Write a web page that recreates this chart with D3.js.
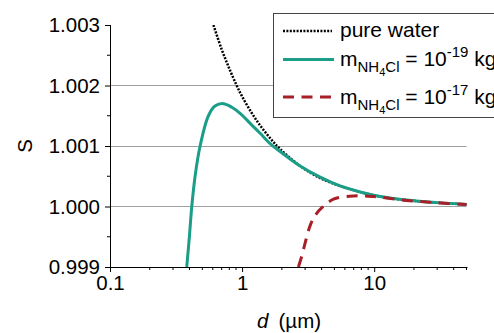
<!DOCTYPE html>
<html><head><meta charset="utf-8">
<script src="https://cdn.jsdelivr.net/npm/d3@7"></script>
<style>body{margin:0;background:#fff;} svg{display:block;font-family:"Liberation Sans",Arial,sans-serif;}</style>
</head><body>
<svg id="c" width="494" height="333"></svg>
<script>
const waterD = [0.607,0.7,0.8,0.91,1.0,1.18,1.37,1.63,1.94,2.75,3.9,5.5,7.8,11,17,30,50];
const waterS = [1.003,1.0026,1.00228,1.002,1.00182,1.00155,1.00134,1.00113,1.00095,1.00067,1.00047,1.00034,1.00024,1.000167,1.00011,1.000062,1.000036];
const lowD = [0.381,0.399,0.416,0.441,0.481,0.556,0.624,0.722,0.836,0.966,1.18,1.37,1.63,1.94,2.75,3.9,5.52,7.83,11.1,16.7,29.9,50];
const lowS = [0.999,0.9995,1.0,1.000505,1.001,1.0015,1.00166,1.0017,1.00164,1.00154,1.00135,1.00121,1.00104,1.00091,1.00067,1.000485,1.00034,1.00024,1.000165,1.00011,1.000064,1.000035];
const highD = [2.67,2.83,3.27,3.57,4.02,4.92,6.97,9.9,16.7,29.9,50];
const highS = [0.999,0.99918,0.99968,0.99985,0.99998,1.00012,1.000175,1.000165,1.000104,1.000062,1.000034];
const xTicks = [0.1,1,10];
const xTickLabels = ["0.1","1","10"];
const yTicks = [0.999,1.000,1.001,1.002,1.003];
const yTickLabels = ["0.999","1.000","1.001","1.002","1.003"];
const gridVals = [1.000,1.001,1.002];

const FS = 20.5;
const svg = d3.select("#c");
const L=110,R=466.5,T=25,B=267;
const x = d3.scaleLog().domain([0.1,50]).range([L,R]);
const y = d3.scaleLinear().domain([0.999,1.003]).range([B,T]);

svg.append("defs").append("clipPath").attr("id","clip").append("rect")
  .attr("x",L).attr("y",T).attr("width",R-L+2).attr("height",B-T);

svg.append("g").selectAll("line").data(gridVals).join("line")
  .attr("x1",L).attr("x2",R).attr("y1",d=>Math.round(y(d))+0.5).attr("y2",d=>Math.round(y(d))+0.5)
  .attr("stroke","#a0a0a0").attr("stroke-width",1);

const minorX = [];
for (let e=-1;e<=1;e++) for (let k=2;k<=9;k++){const v=k*Math.pow(10,e); if(v<=50) minorX.push(v);}
const gx = svg.append("g").attr("transform",`translate(0,${B})`);
gx.call(d3.axisBottom(x).tickValues(xTicks).tickFormat((d,i)=>xTickLabels[i]).tickSize(5).tickPadding(3));
gx.append("g").selectAll("line").data(minorX).join("line")
  .attr("x1",d=>x(d)).attr("x2",d=>x(d)).attr("y1",0).attr("y2",3).attr("stroke","#000");
gx.select(".domain").attr("d",`M${L},0.5H${R+1}`);

const minorY = [0.9995,1.0005,1.0015,1.0025];
const gy = svg.append("g").attr("transform",`translate(${L},0)`);
gy.call(d3.axisLeft(y).tickValues(yTicks).tickFormat((d,i)=>yTickLabels[i]).tickSize(5).tickPadding(5));
gy.append("g").selectAll("line").data(minorY).join("line")
  .attr("x1",0).attr("x2",-3).attr("y1",d=>y(d)).attr("y2",d=>y(d)).attr("stroke","#000");
gy.select(".domain").attr("d",`M0.5,${T}V${B}`);
svg.selectAll(".tick text").attr("font-size",FS).attr("fill","#000").attr("font-family","Liberation Sans, Arial, sans-serif");
svg.selectAll(".tick line").attr("stroke","#000");

const line = d3.line().x(d=>x(d[0])).y(d=>y(d[1])).curve(d3.curveCatmullRom.alpha(0.5));
const plot = svg.append("g").attr("clip-path","url(#clip)");
plot.append("path").datum(waterD.map((d,i)=>[d,waterS[i]])).attr("d",line)
  .attr("fill","none").attr("stroke","#000").attr("stroke-width",2.5).attr("stroke-dasharray","2,1.4");
plot.append("path").datum(lowD.map((d,i)=>[d,lowS[i]])).attr("d",line)
  .attr("fill","none").attr("stroke","#1a9e88").attr("stroke-width",3);
plot.append("path").datum(highD.map((d,i)=>[d,highS[i]])).attr("d",line)
  .attr("fill","none").attr("stroke","#a81f28").attr("stroke-width",3).attr("stroke-dasharray","11,7.5");

svg.append("text").attr("transform","translate(32,146) rotate(-90)").attr("text-anchor","middle")
  .attr("font-size",FS).text("S");
const xt = svg.append("text").attr("x",289).attr("y",328).attr("text-anchor","middle").attr("font-size",FS);
xt.append("tspan").attr("font-style","italic").text("d");
xt.append("tspan").text("\u2002(\u00b5m)");

const lg = svg.append("g");
lg.append("rect").attr("x",273.5).attr("y",13.5).attr("width",260).attr("height",104)
  .attr("fill","#fff").attr("stroke","#444").attr("stroke-width",1);
lg.append("line").attr("x1",283).attr("x2",332).attr("y1",31).attr("y2",31)
  .attr("stroke","#000").attr("stroke-width",2.5).attr("stroke-dasharray","2,1.4");
lg.append("line").attr("x1",283).attr("x2",334).attr("y1",59.5).attr("y2",59.5)
  .attr("stroke","#1a9e88").attr("stroke-width",3);
lg.append("line").attr("x1",283).attr("x2",334).attr("y1",97).attr("y2",97)
  .attr("stroke","#a81f28").attr("stroke-width",3).attr("stroke-dasharray","11,7.5");
lg.append("text").attr("x",340).attr("y",37).attr("font-size",21).text("pure water");
function massLabel(yb, exp){
  const t = lg.append("text").attr("x",340).attr("y",yb).attr("font-size",21);
  t.append("tspan").text("m");
  t.append("tspan").attr("dy",6).attr("font-size",15).text("NH");
  t.append("tspan").attr("dy",4).attr("font-size",11).text("4");
  t.append("tspan").attr("dy",-4).attr("font-size",15).text("Cl");
  t.append("tspan").attr("dy",-6).text(" = 10");
  t.append("tspan").attr("dy",-9).attr("font-size",15).text(exp);
  t.append("tspan").attr("dy",9).text(" kg");
}
massLabel(66,"-19");
massLabel(104,"-17");
</script>
</body></html>
